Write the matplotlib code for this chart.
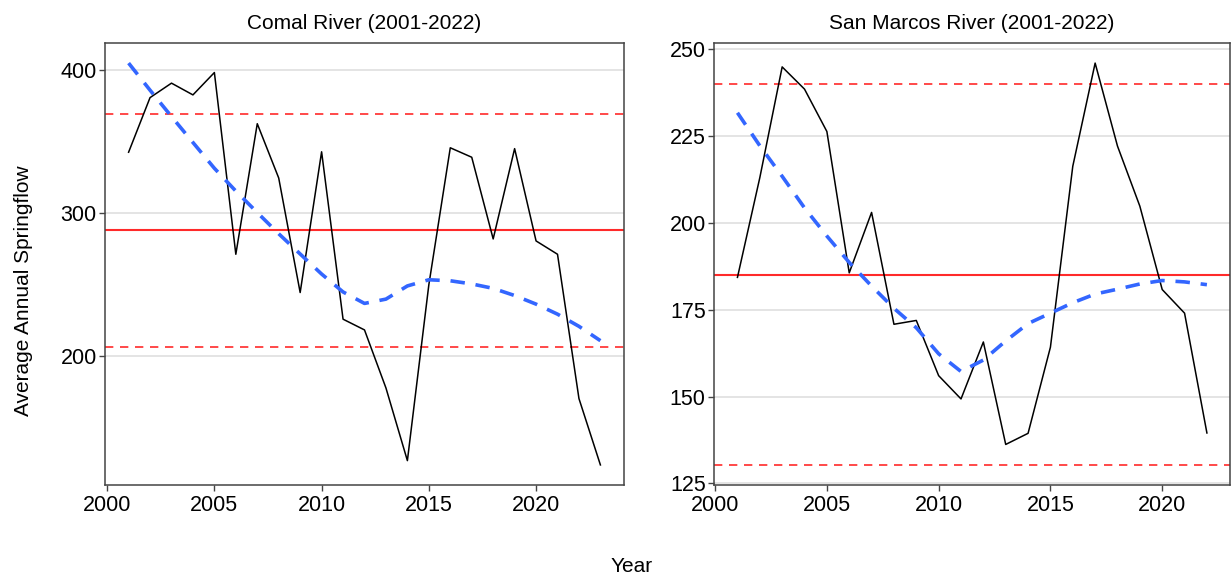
import numpy as np
import matplotlib.pyplot as plt

plt.rcParams['font.family'] = ['Liberation Sans', 'DejaVu Sans']

# annual mean springflow per river
comal_years = np.arange(2001, 2024)
comal_flow = [342.5, 380.6, 390.7, 382.5, 398.1, 271.3, 362.4, 324.5, 244.6, 342.8,
              226.0, 218.5, 178.0, 127.3, 250.0, 345.6, 339.0, 282.0, 345.0, 280.6,
              271.3, 170.6, 124.3]
# loess trend of the Comal series
comal_trend = [404.7, 385.8, 367.4, 349.3, 331.3, 315.4, 300.4, 285.6, 271.5, 257.5,
               245.0, 237.0, 240.0, 249.2, 253.5, 252.8, 250.6, 247.5, 242.5, 236.5,
               229.5, 221.0, 211.0]
comal_mean, comal_sd = 288.0, 81.5

sm_years = np.arange(2001, 2023)
sm_flow = [184.3, 213.0, 244.9, 238.5, 226.3, 185.6, 203.0, 170.8, 171.9, 156.0,
           149.3, 165.7, 136.2, 139.4, 164.2, 216.3, 246.0, 222.1, 204.8, 180.8,
           174.0, 139.5]
# loess trend of the San Marcos series
sm_trend = [231.7, 222.2, 213.4, 204.3, 196.2, 188.6, 181.8, 175.4, 169.8, 162.3,
            157.2, 160.5, 166.0, 171.0, 174.0, 177.0, 179.5, 180.9, 182.4, 183.4,
            183.0, 182.2]
sm_mean, sm_sd = 185.1, 54.8


def panel(ax, years, flow, trend, mean, sd, title, yticks):
    ax.axhline(mean, color='#ff2a2a', lw=1.5, zorder=2)
    ax.axhline(mean + sd, color='#ff2a2a', lw=1.2, dashes=(5, 4), zorder=2)
    ax.axhline(mean - sd, color='#ff2a2a', lw=1.2, dashes=(5, 4), zorder=2)
    ax.plot(years, flow, color='black', lw=1.1, zorder=3)
    ax.plot(years, trend, color='#3366FF', lw=2.6, dashes=(4, 3), zorder=4)

    # ggplot-style 5% padding around everything drawn
    lo = min(min(flow), min(trend), mean - sd)
    hi = max(max(flow), max(trend), mean + sd)
    pad = (hi - lo) * 0.05
    ax.set_ylim(lo - pad, hi + pad)
    xpad = (years[-1] - years[0]) * 0.05
    ax.set_xlim(years[0] - xpad, years[-1] + xpad)

    ax.set_yticks(yticks)
    ax.set_xticks([2000, 2005, 2010, 2015, 2020])
    ax.yaxis.grid(True, color='#dcdcdc', lw=1.1)
    ax.set_axisbelow(True)
    for s in ax.spines.values():
        s.set_color('#444444')
        s.set_linewidth(1.1)
    ax.tick_params(labelsize=15.5, length=4, width=1, color='#444444', labelcolor='black')
    ax.tick_params(axis='y', pad=2)
    ax.set_title(title, fontsize=15, pad=10)


fig = plt.figure(figsize=(12.31, 5.81), dpi=100)
ax1 = fig.add_axes([0.0853, 0.1652, 0.4216, 0.7608])
ax2 = fig.add_axes([0.5800, 0.1652, 0.4195, 0.7608])

panel(ax1, comal_years, comal_flow, comal_trend, comal_mean, comal_sd,
      'Comal River (2001-2022)', [200, 300, 400])
panel(ax2, sm_years, sm_flow, sm_trend, sm_mean, sm_sd,
      'San Marcos River (2001-2022)', [125, 150, 175, 200, 225, 250])

fig.text(0.513, 0.008, 'Year', fontsize=15, ha='center', va='bottom')
fig.text(0.019, 0.50, 'Average Annual Springflow', fontsize=15,
         rotation=90, ha='center', va='center')

fig.savefig('out.png', dpi=100)
